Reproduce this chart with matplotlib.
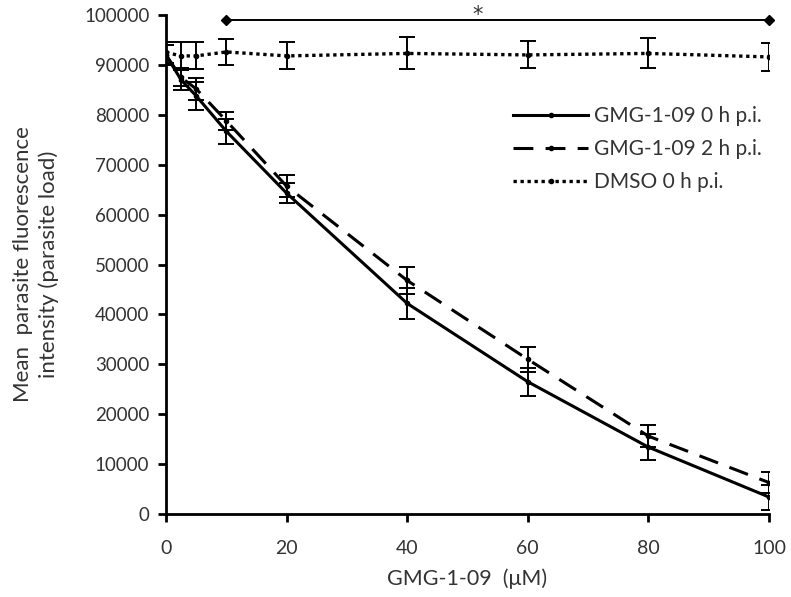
import matplotlib
matplotlib.use("Agg")
import matplotlib.pyplot as plt
from matplotlib.lines import Line2D

# ---- data ----
conc = [0, 2.5, 5, 10, 20, 40, 60, 80, 100]
gmg_0h = [92000, 87000, 83800, 76700, 64300, 42200, 26500, 13400, 3400]
gmg_0h_err = [2000, 2000, 2800, 2500, 2000, 3100, 2800, 2600, 2500]
gmg_2h = [92000, 87500, 85200, 78800, 65700, 46800, 31000, 15600, 6300]
gmg_2h_err = [2000, 1800, 2200, 1800, 2200, 2700, 2500, 2200, 2100]
dmso_0h = [92500, 91800, 91800, 92600, 91800, 92300, 92000, 92300, 91600]
dmso_0h_err = [2100, 2700, 2700, 2600, 2700, 3200, 2700, 3000, 2800]

labels = ["GMG-1-09 0 h p.i.", "GMG-1-09 2 h p.i.", "DMSO 0 h p.i."]
xticks = [0, 20, 40, 60, 80, 100]
yticks = [0, 10000, 20000, 30000, 40000, 50000, 60000, 70000, 80000, 90000, 100000]
sig_x = [10, 100]
sig_y = 99000
sig_label_x = 51.6

plt.rcParams['font.family'] = ['Lato', 'DejaVu Sans']
txt_color = '#333333'

fig = plt.figure(figsize=(7.91, 5.97), dpi=100)
ax = fig.add_axes([166/791, 1-514/597, (769-166)/791, (514-15)/597])

styles = [
    dict(ls='-', lw=2.2),
    dict(ls=(0, (6.5, 4)), lw=2.2),
    dict(ls=(0, (1, 1.1)), lw=2.4),
]
series = [(gmg_0h, gmg_0h_err), (gmg_2h, gmg_2h_err), (dmso_0h, dmso_0h_err)]
handles = []
for (y, e), st, lab in zip(series, styles, labels):
    ax.errorbar(conc, y, yerr=e, fmt='none', ecolor='black', elinewidth=1.4,
                capsize=5.5, capthick=1.4, zorder=2)
    ax.plot(conc, y, color='black', linestyle=st['ls'], linewidth=st['lw'],
            marker='o', markersize=3, zorder=3)
    handles.append(Line2D([], [], color='black', linestyle=st['ls'],
                          linewidth=st['lw'], marker='o', markersize=3,
                          markevery=[1]))

# significance bar
ax.plot(sig_x, [sig_y, sig_y], color='black', lw=1.4, marker='D',
        markersize=5, clip_on=False, zorder=4)
ax.text(sig_label_x, 100100, '*', ha='center', va='center',
        fontsize=15, family='DejaVu Sans',
        color=txt_color, clip_on=False)

ax.set_xlim(0, 100)
ax.set_ylim(0, 100000)
ax.set_xticks(xticks)
ax.set_yticks(yticks)
ax.tick_params(axis='both', direction='out', length=6, width=2,
               labelcolor=txt_color, color='black')
ax.tick_params(axis='x', labelsize=14, pad=13)
ax.tick_params(axis='y', labelsize=13.5, pad=6)
for s in ['top', 'right']:
    ax.spines[s].set_visible(False)
for s in ['left', 'bottom']:
    ax.spines[s].set_linewidth(2)
    ax.spines[s].set_color('black')

ax.set_xlabel('GMG-1-09  (μM)', fontsize=15.5, color=txt_color, labelpad=8)
ax.set_ylabel('Mean  parasite fluorescence\nintensity (parasite load)',
              fontsize=16, color=txt_color, labelpad=18, linespacing=1.35)

leg = ax.legend(handles, labels, loc='upper left',
                bbox_to_anchor=((513-166)/603, (514-106)/499),
                frameon=False, fontsize=15, handlelength=3.6,
                labelspacing=0.62, handletextpad=0.3,
                borderaxespad=0, borderpad=0)
for t in leg.get_texts():
    t.set_color(txt_color)

fig.savefig('out.png', dpi=100)
